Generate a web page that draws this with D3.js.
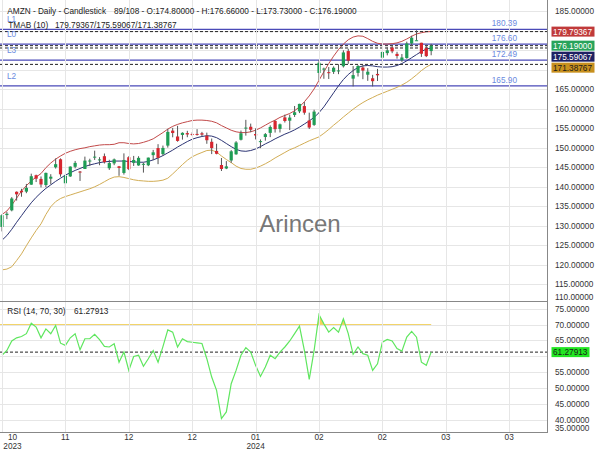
<!DOCTYPE html>
<html><head><meta charset="utf-8">
<script src="https://cdn.jsdelivr.net/npm/d3@7"></script>
<style>body{margin:0;background:#fff} svg{display:block} text{font-family:"Liberation Sans",Arial,sans-serif}</style>
</head><body><svg id="c" width="600" height="450"></svg>
<script>
// ---- data ----
const open=[129.72,132.75,133.96,138.73,138.99,138.76,140.55,142.97,142.02,140.46,142.08,145.00,147.06,140.91,142.66,145.13,143.91,144.57,146.70,147.53,146.98,147.85,144.76,146.00,145.25,143.55,147.58,146.15,145.48,145.66,145.52,148.12,149.93,148.38,150.56,154.40,152.90,153.30,153.77,153.56,153.56,153.72,153.10,151.54,149.20,145.59,144.69,146.74,148.33,152.06,155.04,155.39,153.53,151.49,152.77,153.83,156.89,154.85,157.80,156.95,158.42,159.34,160.70,157.00,155.87,169.19,170.20,169.39,169.48,169.65,170.90,174.80,167.73,169.21,170.58,168.74,167.83,168.94,173.10,174.28,175.70,174.08,172.44,173.01,176.75,177.53,176.93,175.54,174.80];
const high=[133.00,133.57,137.35,138.81,139.49,140.73,143.37,143.12,142.65,143.65,143.23,147.26,147.29,143.32,145.23,146.63,144.05,147.74,147.20,149.26,147.60,148.54,146.93,147.25,145.35,148.57,147.85,147.92,147.84,146.19,147.50,149.46,150.93,150.57,154.85,155.12,155.63,153.97,154.35,153.98,154.78,154.08,153.89,152.38,151.05,147.38,146.59,149.40,151.71,154.42,157.17,156.20,154.99,152.15,153.78,155.76,157.05,156.21,158.51,158.51,160.72,161.29,161.73,159.01,159.76,172.50,170.55,170.71,170.88,171.43,175.00,175.39,170.95,171.21,171.17,170.42,168.71,170.23,174.80,175.75,176.37,174.62,174.05,177.22,178.73,180.14,176.93,176.46,176.66];
const low=[128.56,131.71,133.71,136.47,137.45,138.36,140.50,141.22,139.84,139.91,140.67,144.68,142.59,139.52,142.54,144.73,141.50,144.57,145.32,146.88,145.53,145.97,144.33,145.55,142.81,143.13,144.28,145.34,145.40,143.64,145.30,146.82,145.81,147.97,150.05,152.69,151.56,152.10,152.71,153.03,153.12,152.95,151.03,148.39,148.33,144.05,144.53,146.15,148.21,151.88,153.12,154.01,152.15,149.91,151.82,152.74,153.90,153.93,156.48,154.55,157.91,158.90,158.49,154.81,155.62,167.33,167.70,167.65,168.94,168.88,170.58,171.54,165.75,168.28,167.59,167.17,165.74,167.14,171.77,173.70,174.26,172.86,172.03,172.85,176.07,177.49,173.30,173.26,173.73];
const close=[132.71,133.09,137.00,138.07,138.60,139.74,142.71,142.08,140.60,143.56,142.59,145.80,143.20,142.83,145.18,146.13,143.90,146.71,146.74,147.73,147.03,146.32,146.09,147.03,144.84,146.88,144.52,146.88,147.42,145.89,147.48,148.84,147.42,149.97,154.07,153.79,151.77,153.84,153.42,153.41,153.34,153.38,151.94,149.93,148.47,144.57,145.24,149.10,151.37,153.73,155.18,154.62,153.16,151.71,153.50,155.34,154.78,156.02,156.87,157.75,159.12,161.26,159.00,155.20,159.28,171.81,170.31,169.15,170.53,169.84,174.45,172.34,168.64,170.98,169.80,169.51,167.08,168.59,174.58,174.99,174.73,173.54,173.16,176.76,178.22,177.58,174.12,173.51,176.19];
const tmaUpper=[132.9,133.8,135.3,137.1,138.9,140.3,141.5,142.5,143.4,144.9,146.1,147.1,147.9,148.6,149.1,149.5,149.8,150.0,150.3,150.5,150.7,150.8,150.8,150.9,151.3,151.3,151.1,151.0,151.1,151.4,151.8,152.3,153.1,153.9,154.8,155.5,156.0,156.4,156.7,157.0,157.1,157.1,157.0,156.8,156.4,155.7,155.1,154.5,154.1,153.9,153.9,154.1,154.5,155.1,155.8,156.5,157.1,157.8,158.3,158.8,159.5,160.5,161.8,163.3,165.1,167.3,169.5,171.6,173.5,175.2,176.6,177.7,178.4,178.7,178.6,178.0,177.3,176.8,176.6,176.6,176.7,176.9,177.3,177.9,178.6,179.2,179.5,179.75,179.79367];
const tmaMid=[126.3,127.5,129.1,130.9,132.6,134.3,135.9,137.3,138.5,139.6,140.5,141.4,142.2,143.0,143.6,144.2,144.7,145.2,145.6,145.9,146.2,146.4,146.5,146.6,146.6,146.6,146.5,146.4,146.3,146.3,146.5,146.9,147.4,148.0,148.7,149.4,150.2,150.9,151.6,152.2,152.6,152.9,153.1,153.0,152.6,151.9,151.1,150.3,149.6,149.2,149.1,149.3,149.7,150.3,151.0,151.6,152.3,152.9,153.5,154.0,154.6,155.3,156.1,156.9,157.8,159.0,160.5,162.3,164.1,165.9,167.5,168.8,169.8,170.6,171.0,171.1,171.0,170.8,170.7,170.7,170.8,171.1,171.6,172.3,173.1,173.9,174.7,175.3,175.59067];
const tmaLower=[118.7,118.9,119.5,121.1,122.8,124.9,126.9,128.8,130.5,132.9,134.9,136.2,137.0,137.5,137.9,138.3,138.7,139.1,139.5,140.0,140.6,141.3,142.0,142.5,142.6,142.4,142.1,141.8,141.6,141.5,141.4,141.4,141.5,141.7,142.2,143.3,144.5,145.7,146.8,147.7,148.3,148.8,149.3,149.4,148.9,147.9,147.0,146.2,145.3,144.7,144.5,144.5,144.8,145.3,145.9,146.6,147.4,148.1,148.8,149.5,150.0,150.6,151.2,151.8,152.3,152.8,153.7,154.7,155.8,156.8,157.9,158.9,159.9,160.8,161.6,162.3,162.9,163.5,164.0,164.5,165.0,165.5,166.1,166.8,167.7,168.7,169.8,170.7,171.38767];
const rsi=[60.3,61.8,64.8,65.8,66.2,67.1,70.4,69.2,65.8,68.6,67.1,69.7,64.1,63.4,65.8,67.1,62.0,65.5,65.5,66.9,65.2,63.1,62.9,63.9,58.1,61.3,55.5,59.9,60.3,56.8,59.2,61.8,58.1,63.0,68.3,67.6,62.9,65.5,64.6,64.4,64.2,64.0,59.2,53.4,49.2,40.3,42.4,51.3,55.5,60.3,62.7,61.3,57.1,53.6,56.6,60.3,59.2,61.3,62.9,64.8,67.1,69.5,61.8,52.7,61.8,73.1,70.2,67.6,69.0,67.6,71.8,67.1,60.6,62.9,60.8,60.3,55.5,57.6,64.4,65.3,64.8,62.4,61.6,66.0,67.8,66.0,58.1,57.1,61.27913];
const totalBars=108;
const tickBars=[0,13,26,39,52,65,78,91,104];
const tickMonths=["10","11","12","12","01","02","02","03","03"];
const tickYears=["2023","","","","2024","","","",""];
const priceTicks=[110,115,120,125,130,135,140,145,150,155,160,165,170,175,180,185];
const rsiTicks=[35,40,45,50,55,60,65,70,75,80];
const levelNames=["L1","L0","L3","L2"];
const levelValues=[180.39,176.60,172.49,165.90];
const rsiLevel=70;

// ---- layout ----
const svg=d3.select("#c");
const PR=547, MT=0, MB=301, RT=301, RB=432;
const FS=8.25;
const x=d3.scaleLinear().domain([0,112]).range([2,548.2]);
const y=d3.scaleLinear().domain([110,185]).range([303.8,11.3]);
const yR=d3.scaleLinear().domain([40,70]).range([419.5,324.5]);
const last=close.length-1;
const idx=d3.range(close.length);

const defs=svg.append("defs");
defs.append("clipPath").attr("id","cm").append("rect").attr("x",0).attr("y",MT).attr("width",PR).attr("height",MB-MT);
defs.append("clipPath").attr("id","cr").append("rect").attr("x",0).attr("y",RT).attr("width",PR).attr("height",RB-RT);
defs.append("clipPath").attr("id","cob").append("rect").attr("x",0).attr("y",RT).attr("width",PR).attr("height",yR(rsiLevel)-RT);

const gridC="#e6e6e6";
const gm=svg.append("g").attr("clip-path","url(#cm)");
gm.selectAll("line.h").data(priceTicks).join("line").attr("x1",0).attr("x2",PR)
  .attr("y1",d=>Math.round(y(d))+0.5).attr("y2",d=>Math.round(y(d))+0.5).attr("stroke",gridC);
const gr=svg.append("g").attr("clip-path","url(#cr)");
gr.selectAll("line.h").data(rsiTicks).join("line").attr("x1",0).attr("x2",PR)
  .attr("y1",d=>Math.round(yR(d))+0.5).attr("y2",d=>Math.round(yR(d))+0.5).attr("stroke",gridC);
svg.append("g").selectAll("line").data(tickBars).join("line")
  .attr("x1",d=>Math.round(x(d))+0.5).attr("x2",d=>Math.round(x(d))+0.5).attr("y1",0).attr("y2",RB).attr("stroke",gridC);

// watermark
svg.append("text").attr("x",300).attr("y",232).attr("text-anchor","middle").attr("font-size",24)
  .attr("fill","#777").text("Arincen");

// level lines
levelValues.forEach((v,i)=>{
  gm.append("line").attr("x1",0).attr("x2",PR).attr("y1",y(v)).attr("y2",y(v)).attr("stroke","#4a4ab8").attr("stroke-width",1.2);
  svg.append("text").attr("x",7).attr("y",y(v)-7).attr("font-size",FS).attr("fill","#6a8ae0").text(levelNames[i]);
  svg.append("text").attr("x",517).attr("y",y(v)-3).attr("text-anchor","end").attr("font-size",FS).attr("fill","#6a8ae0").text(v.toFixed(2));
});

// bands
const line=(arr,sc)=>d3.line().x(i=>x(i)).y(i=>sc(arr[i]));
gm.append("path").attr("d",line(tmaUpper,y)(idx)).attr("fill","none").attr("stroke","#c24a4a").attr("stroke-width",1);
gm.append("path").attr("d",line(tmaMid,y)(idx)).attr("fill","none").attr("stroke","#2c3474").attr("stroke-width",1);
gm.append("path").attr("d",line(tmaLower,y)(idx)).attr("fill","none").attr("stroke","#d2ad55").attr("stroke-width",1);

// dashed current-value lines
const cur=[tmaUpper[last],close[last],tmaMid[last],tmaLower[last]];
gm.selectAll("line.cur").data(cur).join("line").attr("x1",0).attr("x2",PR)
  .attr("y1",d=>y(d)).attr("y2",d=>y(d)).attr("stroke","#222").attr("stroke-dasharray","3,2");

// candles
const cw=3.2;
const cg=gm.append("g");
cg.selectAll("line.w").data(idx).join("line")
  .attr("x1",i=>x(i)).attr("x2",i=>x(i)).attr("y1",i=>y(high[i])).attr("y2",i=>y(low[i]))
  .attr("stroke","#555").attr("stroke-width",1);
cg.selectAll("rect").data(idx).join("rect")
  .attr("x",i=>x(i)-cw/2).attr("width",cw)
  .attr("y",i=>y(Math.max(open[i],close[i])))
  .attr("height",i=>Math.max(1,Math.abs(y(open[i])-y(close[i]))))
  .attr("fill",i=>close[i]>=open[i]?"#1f9d55":"#d7262f");

// RSI
gr.append("path").attr("clip-path","url(#cob)")
  .attr("d",d3.area().x(i=>x(i)).y0(yR(rsiLevel)).y1(i=>yR(rsi[i]))(idx)).attr("fill","#f5d35a");
gr.append("line").attr("x1",0).attr("x2",x(last)).attr("y1",yR(rsiLevel)).attr("y2",yR(rsiLevel)).attr("stroke","#f2d46a").attr("stroke-width",1.2);
gr.append("line").attr("x1",0).attr("x2",PR).attr("y1",yR(rsi[last])).attr("y2",yR(rsi[last])).attr("stroke","#222").attr("stroke-dasharray","3,2");
gr.append("path").attr("d",line(rsi,yR)(idx)).attr("fill","none").attr("stroke","#5fe65f").attr("stroke-width",1.2);

// axes lines
svg.append("line").attr("x1",PR+0.5).attr("x2",PR+0.5).attr("y1",0).attr("y2",RB).attr("stroke","#888");
svg.append("line").attr("x1",0).attr("x2",PR+1).attr("y1",RB+0.5).attr("y2",RB+0.5).attr("stroke","#888");
svg.append("line").attr("x1",0).attr("x2",PR+1).attr("y1",MB+0.5).attr("y2",MB+0.5).attr("stroke","#888");

// badges layout
const badges=[
  {v:tmaUpper[last],bg:"#c03a3a",fg:"#fff"},
  {v:close[last],bg:"#27a35a",fg:"#fff"},
  {v:tmaMid[last],bg:"#1d2062",fg:"#fff"},
  {v:tmaLower[last],bg:"#c8901e",fg:"#1a1a1a"}
].sort((a,b)=>b.v-a.v);
let prev=-100;
badges.forEach(b=>{ b.cy=Math.max(y(b.v),prev+11); prev=b.cy; });
const rsiBadgeY=yR(rsi[last]);

// right price labels
const mainLabels=priceTicks.filter(d=>badges.every(b=>Math.abs(Math.min(y(d),296.5)-b.cy)>8));
svg.append("g").selectAll("text").data(mainLabels).join("text")
  .attr("x",555).attr("y",d=>Math.min(y(d),296.5)+3).attr("font-size",FS).attr("fill","#333").text(d=>d.toFixed(5));
const rLabels=rsiTicks.filter(d=>yR(d)>=RT+4 && Math.abs(Math.min(yR(d),428)-rsiBadgeY)>8);
svg.append("g").selectAll("text").data(rLabels).join("text")
  .attr("x",555).attr("y",d=>Math.min(yR(d),428)+3).attr("font-size",FS).attr("fill","#333").text(d=>d.toFixed(5));

// badges
badges.forEach(b=>{
  svg.append("rect").attr("x",551.5).attr("y",b.cy-5).attr("width",43).attr("height",10).attr("fill",b.bg);
  svg.append("text").attr("x",553).attr("y",b.cy+3).attr("font-size",FS).attr("fill",b.fg).text(b.v.toFixed(5));
});
svg.append("rect").attr("x",551.5).attr("y",rsiBadgeY-5).attr("width",38).attr("height",10).attr("fill","#22e622");
svg.append("text").attr("x",553).attr("y",rsiBadgeY+3).attr("font-size",FS).attr("fill","#1a1a1a").text(rsi[last].toFixed(5));

// bottom tick labels
tickBars.forEach((b,i)=>{
  const g=svg.append("g");
  const t1=g.append("text").attr("text-anchor","middle").attr("y",439.5).attr("font-size",FS).attr("fill","#333").text(tickMonths[i]);
  const t2=g.append("text").attr("text-anchor","middle").attr("y",448.5).attr("font-size",FS).attr("fill","#333").text(tickYears[i]);
  const w=Math.max(t1.node().getComputedTextLength(),t2.node().getComputedTextLength());
  let cx=x(b); if(cx-w/2<3.3) cx=3.3+w/2;
  t1.attr("x",cx); t2.attr("x",cx);
});

// header texts
const f5=v=>v.toFixed(5);
svg.append("text").attr("x",7.3).attr("y",13.5).attr("font-size",FS).attr("fill","#222")
  .attr("textLength",98.7).attr("lengthAdjust","spacing").text("AMZN - Daily - Candlestick");
svg.append("text").attr("x",114).attr("y",13.5).attr("font-size",FS).attr("fill","#222")
  .attr("textLength",242.7).attr("lengthAdjust","spacing")
  .text(`${close.length}/${totalBars} - O:${f5(open[last])} - H:${f5(high[last])} - L:${f5(low[last])} - C:${f5(close[last])}`);
svg.append("text").attr("x",8.3).attr("y",28).attr("font-size",FS).attr("fill","#222").text("TMAB (10)");
svg.append("text").attr("x",55).attr("y",28).attr("font-size",FS).attr("fill","#222")
  .text(`${f5(tmaUpper[last])}/${f5(tmaMid[last])}/${f5(tmaLower[last])}`);
svg.append("text").attr("x",7.3).attr("y",314).attr("font-size",FS).attr("fill","#222").text("RSI (14, 70, 30)");
svg.append("text").attr("x",74).attr("y",314).attr("font-size",FS).attr("fill","#222").text(f5(rsi[last]));
</script></body></html>
